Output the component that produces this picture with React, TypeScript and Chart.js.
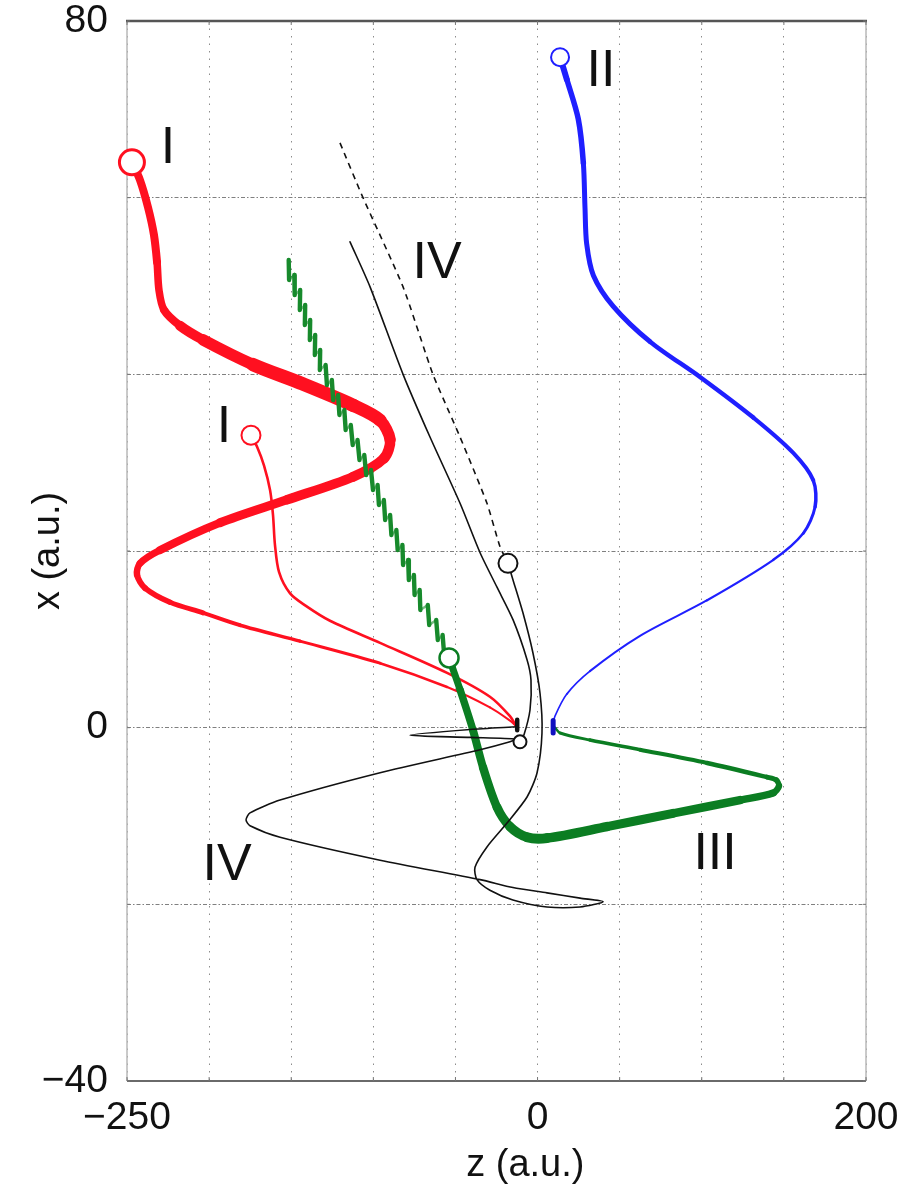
import React, { useEffect, useRef } from 'react';
import { Chart, registerables } from 'chart.js';

Chart.register(...registerables);

const FONT = '"Liberation Sans", Arial, Helvetica, sans-serif';

// Tick values that carry a printed label
const zTickLabels = [-250, 0, 200];
const xTickLabels = [-40, 0, 80];

// Trajectory I, outer bundle (z, x in a.u.)
const iOuterZ = [-247.0, -242.1, -237.2, -233.6, -231.7, -230.5, -227.5, -217.7, -203.7, -173.3, -142.8, -112.4, -95.9, -89.8, -93.5, -112.4, -152.6, -193.4, -229.9, -242.1, -243.9, -239.0, -223.8, -203.7, -181.2, -144.7, -95.9, -55.1, -29.0, -16.8, -13.1];
const iOuterX = [64.0, 62.0, 58.9, 55.8, 52.7, 49.5, 47.3, 45.5, 43.9, 41.1, 38.9, 36.5, 34.8, 32.6, 30.5, 28.4, 25.8, 23.2, 20.1, 18.6, 17.3, 15.8, 14.2, 13.0, 11.6, 9.8, 7.3, 4.6, 2.3, 0.8, 0.2];
const iOuterWidth = [8, 8, 8, 8, 7.5, 7.5, 8, 10, 11.5, 13.5, 13.5, 13, 11.5, 10.5, 10, 9.5, 9, 8, 7, 6.5, 6, 5.5, 5, 4, 3.5, 3, 2.5, 2.2, 2, 2];

// Trajectory I, inner
const iInnerZ = [-174.5, -170.8, -166.6, -162.9, -161.1, -159.9, -157.4, -150.7, -140.4, -126.4, -95.9, -55.1, -29.0, -16.8, -13.1];
const iInnerX = [33.1, 31.8, 29.7, 26.9, 24.1, 20.7, 17.6, 15.2, 13.7, 12.1, 9.6, 6.2, 3.5, 1.3, 0.2];

// Trajectory II
const iiZ = [13.7, 17.8, 24.8, 27.9, 28.9, 29.9, 34.0, 46.1, 68.5, 98.9, 131.4, 155.7, 167.9, 169.0, 161.8, 143.6, 103.0, 62.4, 31.9, 17.8, 10.6, 9.6];
const iiX = [75.9, 73.4, 68.9, 63.9, 58.8, 54.8, 51.2, 47.7, 43.7, 39.7, 35.1, 31.1, 28.0, 25.0, 22.0, 19.0, 14.4, 10.4, 6.4, 3.8, 1.3, 0.4];
const iiWidth = [6, 5.5, 5.5, 5, 5, 5, 5, 5, 4.5, 4.5, 4, 4, 3.5, 3, 2.5, 2.2, 2, 2, 1.8, 1.6, 1.6];
const iiExitZ = [9.5, 9.5];
const iiExitX = [0.8, -0.6];

// Trajectory III, bound part
const iiiZ = [-53.9, -47.2, -39.3, -33.2, -24.7, -16.8, -6.4, 5.8, 42.3, 82.5, 123.3, 143.4, 147.0, 145.2, 139.7, 103.2, 62.4, 31.9, 13.7, 10.6];
const iiiX = [7.9, 4.3, -0.3, -4.5, -9.0, -11.2, -12.4, -12.5, -11.2, -9.7, -8.2, -7.4, -6.6, -5.9, -5.6, -4.0, -2.5, -1.4, -0.6, 0.0];
const iiiWidth = [7, 7.5, 8, 8.5, 9, 9.5, 10, 9.5, 9, 8.5, 7.5, 6.5, 5.5, 5, 4.5, 4, 3.5, 3, 2.5];

// Trajectory III, oscillating drift part: one short stroke per oscillation
// (pairs of points: upper end, lower end)
const iiiDriftZ = [
  -151.53, -151.30, -148.12, -147.89, -144.55, -144.76, -141.50, -141.71, -138.46, -138.67,
  -135.41, -135.63, -132.37, -132.58, -129.07, -128.26, -125.27, -124.46, -121.46, -120.65,
  -117.66, -116.85, -113.74, -112.54, -109.63, -108.43, -105.52, -104.32, -101.41, -100.21,
  -97.41, -96.60, -93.60, -92.79, -89.80, -88.99, -85.99, -85.18, -82.29, -81.88,
  -78.79, -78.38, -75.29, -74.88, -71.78, -71.38, -66.85, -65.96, -61.71, -60.74,
  -57.82, -56.85,
];
const iiiDriftX = [
  52.94, 50.68, 51.25, 48.98, 49.55, 47.28, 47.85, 45.59, 46.15, 43.89,
  44.45, 42.19, 42.76, 40.49, 41.06, 38.79, 39.36, 37.09, 37.66, 35.40,
  35.96, 33.70, 34.27, 32.00, 32.57, 30.30, 30.87, 28.60, 29.17, 26.91,
  27.47, 25.21, 25.77, 23.51, 24.08, 21.81, 22.38, 20.11, 20.68, 18.42,
  18.98, 16.72, 17.28, 15.02, 15.59, 13.32, 13.89, 11.62, 12.19, 9.92,
  10.49, 8.23,
];

// Trajectory IV, drift after the marker (dashed)
const ivDriftZ = [-120.3, -106.3, -81.9, -63.7, -47.2, -30.8, -22.9, -18.0];
const ivDriftX = [66.2, 60.0, 49.9, 40.0, 32.9, 25.4, 20.5, 18.6];

// Trajectory IV, looping part
const ivLoopZ = [-18.0, -14.9, -8.9, -2.8, 1.5, 2.7, -0.3, -6.4, -18.6, -30.8, -38.1, -36.9, -29.0, -15.0, 5.75, 25.9, 39.9, 25.9, 5.75, -15.0, -35.0, -95.9, -156.8, -175.1, -177.5, -175.1, -156.8, -95.9, -35.0, -16.8, -13.1, -41.1, -77.7, -41.1, -12.5];
const ivLoopX = [18.6, 16.7, 13.0, 8.45, 3.9, -0.6, -5.1, -7.85, -10.8, -13.5, -15.8, -17.2, -18.4, -19.5, -20.3, -20.3, -19.7, -19.3, -18.7, -18.1, -17.2, -15.0, -12.4, -11.1, -10.45, -9.65, -8.2, -5.1, -2.5, -1.6, -1.3, -1.1, -0.85, -0.2, 0.1];
const ivExitZ = [-12.4, -12.4];
const ivExitX = [0.9, -0.3];

// Trajectory IV, second branch
const ivBranchZ = [-114.2, -102.0, -81.9, -65.5, -47.2, -35.0, -24.7, -14.9, -6.4, -4.0, -4.6, -8.25, -10.7];
const ivBranchX = [55.0, 49.9, 40.0, 32.9, 25.4, 19.8, 15.9, 12.2, 7.7, 5.4, 2.0, -0.8, -1.6];

// Open circles marking the trajectory markers
const markerZ = [-247.0, -174.5, 13.7, -53.9, -18.0, -10.7];
const markerX = [64.0, 33.1, 75.9, 7.9, 18.6, -1.6];
const markerColor = ['#ff1020', '#ff1020', '#1f1fff', '#0b7d22', '#111111', '#111111'];
const markerRadius = [12.5, 9.5, 9, 9.5, 9.5, 6.5];
const markerBorder = [3, 2, 2, 2.5, 2, 2];

// Curve names
const curveLabels = ['I', 'I', 'II', 'IV', 'IV', 'III'];
const curveLabelZ = [-225.0, -190.9, 38.6, -61.2, -189.1, 108.1];
const curveLabelX = [65.6, 34.0, 74.3, 52.5, -15.6, -14.4];

const RED = '#ff1020';
const BLUE = '#1f1fff';
const GREEN = '#0b7d22';
const DRIFT_GREEN = '#178a2c';
const DRIFT_HOP = 'rgba(23,138,44,0.6)';
const BLACK = '#111111';

const pts = (zs: number[], xs: number[]) => zs.map((z, i) => ({ x: z, y: xs[i] }));

const fmt = (v: number) => (v < 0 ? '\u2212' + Math.abs(v) : String(v));

const lineBase = {
  showLine: true,
  pointRadius: 0,
  pointHoverRadius: 0,
  pointHitRadius: 0,
  fill: false,
  borderCapStyle: 'round' as const,
  borderJoinStyle: 'round' as const,
  clip: false as const,
};

const decorPlugin = {
  id: 'decor',
  beforeDatasetsDraw(chart: any) {
    const { ctx, chartArea: a, scales } = chart;
    const xs = scales.x;
    const ys = scales.y;
    const seg = (x1: number, y1: number, x2: number, y2: number) => {
      ctx.beginPath();
      ctx.moveTo(x1, y1);
      ctx.lineTo(x2, y2);
      ctx.stroke();
    };
    ctx.save();
    ctx.setLineDash([]);
    ctx.strokeStyle = '#b8b8b8';
    ctx.lineWidth = 1.5;
    seg(a.left, a.top, a.left, a.bottom);
    seg(a.right, a.top, a.right, a.bottom);
    ctx.strokeStyle = '#6a6a6a';
    ctx.lineWidth = 2;
    seg(a.left, a.bottom, a.right, a.bottom);
    ctx.strokeStyle = '#555555';
    ctx.lineWidth = 2.5;
    seg(a.left - 1, a.top, a.right + 1, a.top);
    ctx.lineWidth = 1;
    ctx.strokeStyle = '#777777';
    xs.ticks.forEach((_t: any, i: number) => {
      const px = xs.getPixelForTick(i);
      seg(px, a.bottom, px, a.bottom - 4);
      seg(px, a.top, px, a.top + 4);
    });
    ys.ticks.forEach((_t: any, i: number) => {
      const py = ys.getPixelForTick(i);
      seg(a.left, py, a.left + 3, py);
      seg(a.right, py, a.right - 3, py);
    });
    ctx.restore();
  },
  afterDatasetsDraw(chart: any) {
    const { ctx, scales, chartArea: a } = chart;
    ctx.save();
    ctx.fillStyle = BLACK;
    ctx.font = `52px ${FONT}`;
    ctx.textAlign = 'center';
    ctx.textBaseline = 'middle';
    curveLabels.forEach((t, i) => {
      ctx.fillText(t, scales.x.getPixelForValue(curveLabelZ[i]), scales.y.getPixelForValue(curveLabelX[i]));
    });
    // horizontal axis title, set a little right of centre
    ctx.font = `38px ${FONT}`;
    ctx.fillText('z (a.u.)', a.left + (a.right - a.left) * 0.539, a.bottom + 85);
    ctx.restore();
  },
};

// Keep the plot frame exactly where the layout puts it
const noScalePadding = (s: any) => {
  s.paddingTop = 0;
  s.paddingBottom = 0;
  s.paddingLeft = 0;
  s.paddingRight = 0;
};

export default function App() {
  const canvasRef = useRef<HTMLCanvasElement | null>(null);

  useEffect(() => {
    const canvas = canvasRef.current;
    if (!canvas) return;

    const datasets: any[] = [
      {
        label: 'markers',
        data: pts(markerZ, markerX),
        showLine: false,
        pointStyle: 'circle',
        pointRadius: markerRadius,
        pointHoverRadius: markerRadius,
        pointBorderWidth: markerBorder,
        pointBorderColor: markerColor,
        pointBackgroundColor: '#ffffff',
        clip: false,
      },
      {
        ...lineBase,
        label: 'IV exit',
        data: pts(ivExitZ, ivExitX),
        borderColor: BLACK,
        borderWidth: 4.5,
        borderCapStyle: 'butt',
      },
      {
        ...lineBase,
        label: 'II exit',
        data: pts(iiExitZ, iiExitX),
        borderColor: '#1010c0',
        borderWidth: 5,
      },
      {
        ...lineBase,
        label: 'IV branch',
        data: pts(ivBranchZ, ivBranchX),
        borderColor: BLACK,
        borderWidth: 1.6,
        tension: 0.25,
      },
      {
        ...lineBase,
        label: 'IV loop',
        data: pts(ivLoopZ, ivLoopX),
        borderColor: BLACK,
        borderWidth: 1.6,
        tension: 0.25,
      },
      {
        ...lineBase,
        label: 'IV drift',
        data: pts(ivDriftZ, ivDriftX),
        borderColor: BLACK,
        borderWidth: 1.6,
        borderDash: [6, 5],
        borderCapStyle: 'butt',
        tension: 0.2,
      },
      {
        ...lineBase,
        label: 'III',
        data: pts(iiiZ, iiiX),
        borderColor: GREEN,
        borderWidth: 6,
        tension: 0.3,
        segment: { borderWidth: (c: any) => iiiWidth[c.p0DataIndex] },
      },
      {
        ...lineBase,
        label: 'III drift',
        data: pts(iiiDriftZ, iiiDriftX),
        borderColor: DRIFT_GREEN,
        borderWidth: 4.4,
        tension: 0,
        segment: {
          // strokes between each pair; the hops between strokes are lighter
          borderColor: (c: any) => (c.p0DataIndex % 2 === 0 ? DRIFT_GREEN : DRIFT_HOP),
          borderWidth: (c: any) => (c.p0DataIndex % 2 === 0 ? 4.4 : 2.4),
        },
      },
      {
        ...lineBase,
        label: 'II',
        data: pts(iiZ, iiX),
        borderColor: BLUE,
        borderWidth: 4,
        tension: 0.3,
        segment: { borderWidth: (c: any) => iiWidth[c.p0DataIndex] },
      },
      {
        ...lineBase,
        label: 'I inner',
        data: pts(iInnerZ, iInnerX),
        borderColor: RED,
        borderWidth: 2.6,
        tension: 0.3,
      },
      {
        ...lineBase,
        label: 'I outer',
        data: pts(iOuterZ, iOuterX),
        borderColor: RED,
        borderWidth: 8,
        tension: 0.3,
        segment: { borderWidth: (c: any) => iOuterWidth[c.p0DataIndex] },
      },
    ];

    const chart = new Chart(canvas, {
      type: 'scatter',
      data: { datasets },
      options: {
        animation: false,
        responsive: true,
        maintainAspectRatio: false,
        events: [],
        layout: { padding: { top: 21, right: 40, left: 0, bottom: 0 } },
        plugins: {
          legend: { display: false },
          tooltip: { enabled: false },
        },
        scales: {
          x: {
            type: 'linear',
            min: -250,
            max: 200,
            afterFit: (s: any) => {
              s.height = 107;
              noScalePadding(s);
            },
            ticks: {
              stepSize: 50,
              autoSkip: false,
              maxRotation: 0,
              padding: 18,
              color: BLACK,
              font: { family: FONT, size: 39, lineHeight: 1 },
              callback: (v: any) => (zTickLabels.includes(Number(v)) ? fmt(Number(v)) : ''),
            },
            grid: { color: '#8c8c8c', lineWidth: 1, drawTicks: false },
            border: { display: false, dash: [1.5, 6] },
            title: { display: false },
          },
          y: {
            type: 'linear',
            min: -40,
            max: 80,
            afterFit: (s: any) => {
              s.width = 127;
              noScalePadding(s);
            },
            ticks: {
              stepSize: 20,
              autoSkip: false,
              padding: 19,
              color: BLACK,
              font: { family: FONT, size: 39, lineHeight: 1 },
              callback: (v: any) => (xTickLabels.includes(Number(v)) ? fmt(Number(v)) : ''),
            },
            grid: { color: '#808080', lineWidth: 1, drawTicks: false },
            border: { display: false, dash: [4, 2, 1.5, 2] },
            title: {
              display: true,
              text: 'x (a.u.)',
              color: BLACK,
              font: { family: FONT, size: 38, lineHeight: 1 },
              padding: { top: 30, bottom: 0 },
            },
          },
        },
      },
      plugins: [decorPlugin],
    } as any);

    return () => {
      chart.destroy();
    };
  }, []);

  return (
    <div style={{ position: 'absolute', left: 0, top: 0, width: 906, height: 1188, background: '#ffffff' }}>
      <canvas ref={canvasRef} />
    </div>
  );
}
